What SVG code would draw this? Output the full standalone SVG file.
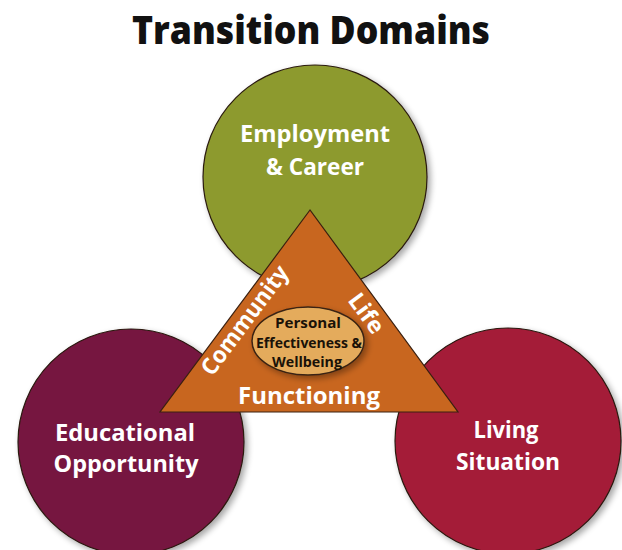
<svg xmlns="http://www.w3.org/2000/svg" width="622" height="550" viewBox="0 0 622 550">
  <defs>
    <filter id="shadow" x="-20%" y="-20%" width="140%" height="140%">
      <feGaussianBlur in="SourceAlpha" stdDeviation="3"/>
      <feOffset dx="3" dy="3" result="b"/>
      <feComponentTransfer><feFuncA type="linear" slope="0.35"/></feComponentTransfer>
      <feMerge><feMergeNode/><feMergeNode in="SourceGraphic"/></feMerge>
    </filter>
  </defs>
  <style>
    .domain { stroke: #2a1a10; stroke-width: 1.2; filter: url(#shadow); }
    .label { font-family: "Open Sans", "Noto Sans", sans-serif; font-weight: bold; fill: #ffffff; text-anchor: middle; }
    .inner { font-family: "Open Sans", "Noto Sans", sans-serif; font-weight: bold; fill: #1a1208; text-anchor: middle; }
  </style>
  <rect width="622" height="550" fill="#ffffff"/>

  <text x="311" y="44" font-family="'Open Sans', 'Noto Sans', sans-serif" font-weight="800" font-size="39" text-anchor="middle" fill="#111111" textLength="358" lengthAdjust="spacingAndGlyphs">Transition Domains</text>

  <g id="employment">
    <circle class="domain" cx="315" cy="177" r="112" fill="#8d9a2e"/>
    <text class="label" x="315" y="142" font-size="24" textLength="150" lengthAdjust="spacingAndGlyphs">Employment</text>
    <text class="label" x="315" y="175" font-size="24" textLength="98" lengthAdjust="spacingAndGlyphs">&amp; Career</text>
  </g>

  <g id="education">
    <circle class="domain" cx="131" cy="442" r="113" fill="#76173f"/>
    <text class="label" x="125" y="441" font-size="24" textLength="140" lengthAdjust="spacingAndGlyphs">Educational</text>
    <text class="label" x="126" y="472" font-size="24" textLength="145" lengthAdjust="spacingAndGlyphs">Opportunity</text>
  </g>

  <g id="living">
    <circle class="domain" cx="508" cy="441" r="113" fill="#a41b38"/>
    <text class="label" x="506" y="438" font-size="24" textLength="65" lengthAdjust="spacingAndGlyphs">Living</text>
    <text class="label" x="508" y="470" font-size="24" textLength="104" lengthAdjust="spacingAndGlyphs">Situation</text>
  </g>

  <g id="community-life">
    <polygon points="310,210 160,412 458,412" fill="#c8661f" stroke="#3a2010" stroke-width="1.2"/>
    <text class="label" font-size="23" transform="translate(251,325) rotate(-53.4)" textLength="130" lengthAdjust="spacingAndGlyphs">Community</text>
    <text class="label" font-size="23" transform="translate(360,318) rotate(53.6)" textLength="44" lengthAdjust="spacingAndGlyphs">Life</text>
    <text class="label" x="309" y="404" font-size="23" textLength="142" lengthAdjust="spacingAndGlyphs">Functioning</text>
  </g>

  <g id="personal">
    <ellipse cx="308" cy="341" rx="56" ry="34" fill="#e4ab5c" stroke="#3a2412" stroke-width="1.5" filter="url(#shadow)"/>
    <text class="inner" x="308" y="328" font-size="14" textLength="66" lengthAdjust="spacingAndGlyphs">Personal</text>
    <text class="inner" x="309" y="348" font-size="14" textLength="106" lengthAdjust="spacingAndGlyphs">Effectiveness &amp;</text>
    <text class="inner" x="307" y="367" font-size="14" textLength="70" lengthAdjust="spacingAndGlyphs">Wellbeing</text>
  </g>
</svg>
